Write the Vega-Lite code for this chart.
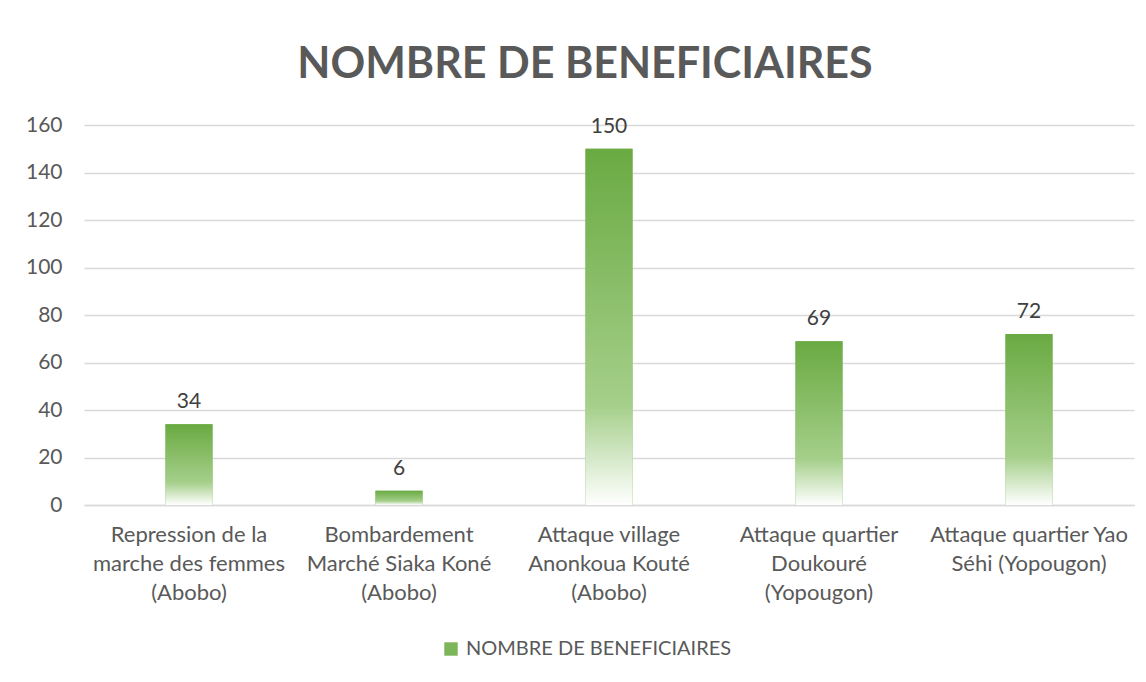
{
  "$schema": "https://vega.github.io/schema/vega-lite/v6.json",
  "width": 1050,
  "height": 380,
  "autosize": {"type": "none"},
  "padding": {"left": 84, "top": 125, "right": 12, "bottom": 177},
  "background": "white",
  "config": {"view": {"stroke": null}, "font": "Lato"},
  "title": {
    "text": "NOMBRE DE BENEFICIAIRES",
    "font": "Lato",
    "fontSize": 43,
    "fontWeight": "bold",
    "color": "#595959",
    "anchor": "middle",
    "dx": -24,
    "offset": 27
  },
  "data": {
    "values": [
      {"event": "Repression de la\nmarche des femmes\n(Abobo)", "count": 34, "series": "NOMBRE DE BENEFICIAIRES"},
      {"event": "Bombardement\nMarché Siaka Koné\n(Abobo)", "count": 6, "series": "NOMBRE DE BENEFICIAIRES"},
      {"event": "Attaque village\nAnonkoua Kouté\n(Abobo)", "count": 150, "series": "NOMBRE DE BENEFICIAIRES"},
      {"event": "Attaque quartier\nDoukouré\n(Yopougon)", "count": 69, "series": "NOMBRE DE BENEFICIAIRES"},
      {"event": "Attaque quartier Yao\nSéhi (Yopougon)", "count": 72, "series": "NOMBRE DE BENEFICIAIRES"}
    ]
  },
  "encoding": {
    "x": {
      "field": "event",
      "type": "nominal",
      "sort": null,
      "scale": {"paddingInner": 0.776, "paddingOuter": 0.388},
      "axis": {
        "title": null,
        "labelAngle": 0,
        "labelExpr": "split(datum.value, '\\n')",
        "labelFont": "Lato",
        "labelFontSize": 22,
        "labelColor": "#595959",
        "labelLineHeight": 29,
        "labelPadding": 19,
        "labelBaseline": "top",
        "ticks": false,
        "domainColor": "#D9D9D9",
        "domainWidth": 1.5,
        "labelLimit": 300
      }
    },
    "y": {
      "field": "count",
      "type": "quantitative",
      "scale": {"domain": [0, 160]},
      "axis": {
        "title": null,
        "values": [0, 20, 40, 60, 80, 100, 120, 140, 160],
        "labelFont": "Lato",
        "labelFontSize": 21,
        "labelColor": "#595959",
        "labelPadding": 22,
        "ticks": false,
        "domain": false,
        "gridColor": "#D9D9D9",
        "gridWidth": 1.3
      }
    }
  },
  "layer": [
    {
      "mark": {"type": "bar"},
      "encoding": {
        "fill": {
          "field": "series",
          "type": "nominal",
          "scale": {"range": ["#7DB55A"]},
          "legend": {
            "title": null,
            "orient": "none",
            "legendX": 357,
            "legendY": 514,
            "symbolType": "square",
            "symbolSize": 180,
            "symbolStrokeWidth": 0,
            "labelFont": "Lato",
            "labelFontSize": 20,
            "labelColor": "#595959",
            "labelOffset": 5,
            "labelLimit": 500
          }
        }
      }
    },
    {
      "mark": {
        "type": "bar",
        "fill": {
          "gradient": "linear",
          "x1": 0, "y1": 0, "x2": 0, "y2": 1,
          "stops": [
            {"offset": 0, "color": "#6AAA42"},
            {"offset": 0.72, "color": "#A5CF8A"},
            {"offset": 1, "color": "#FFFFFF"}
          ]
        }
      }
    },
    {
      "mark": {"type": "text", "baseline": "alphabetic", "dy": -16, "font": "Lato", "fontSize": 21, "color": "#404040"},
      "encoding": {"text": {"field": "count", "type": "quantitative"}}
    }
  ]
}
